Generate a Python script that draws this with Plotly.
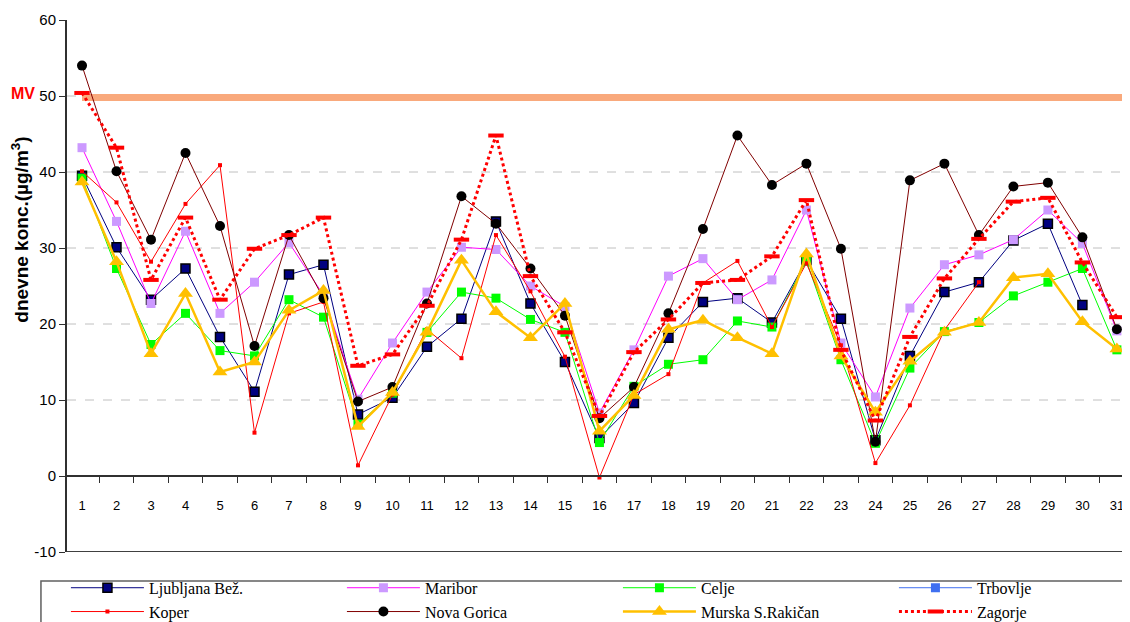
import plotly.graph_objects as go

days = [str(d) for d in range(1, 32)]

ljubljana = [39.5, 30.1, 23.2, 27.3, 18.3, 11.1, 26.5, 27.8, 8.1, 10.3, 17.0, 20.7, 33.5, 22.7, 15.0, 5.0,
             9.6, 18.2, 22.9, 23.4, 20.2, 28.4, 20.7, 4.7, 15.8, 24.2, 25.5, 31.0, 33.2, 22.5, None]
maribor = [43.2, 33.5, 22.7, 32.2, 21.4, 25.5, 30.7, 23.8, 10.1, 17.5, 24.2, 30.1, 29.8, 25.0, 22.3, 8.3,
           16.6, 26.3, 28.6, 23.2, 25.8, 35.0, 17.5, 10.4, 22.1, 27.8, 29.1, 31.1, 35.0, 30.6, 19.1]
celje = [39.2, 27.3, 17.3, 21.4, 16.5, 15.8, 23.2, 20.9, 6.8, 10.9, 18.9, 24.2, 23.4, 20.6, 18.9, 4.4,
         11.8, 14.7, 15.3, 20.4, 19.6, 28.3, 15.3, 4.3, 14.2, 19.0, 20.2, 23.7, 25.5, 27.3, 16.6]
trbovlje = [None] * 31
koper = [40.1, 36.0, 28.2, 35.8, 40.9, 5.7, 21.4, 22.9, 1.4, 10.7, 19.3, 15.5, 31.7, 24.3, 15.7, -0.2,
         10.7, 13.4, 25.4, 28.3, 19.6, 28.0, 17.2, 1.7, 9.3, 19.2, 25.5, None, None, None, None]
nova_gorica = [54.0, 40.1, 31.1, 42.5, 32.9, 17.1, 31.7, 23.4, 9.8, 11.7, 22.7, 36.8, 33.2, 27.3, 21.1, 7.6,
               11.7, 21.4, 32.5, 44.8, 38.3, 41.1, 29.9, 4.5, 38.9, 41.1, 31.7, 38.1, 38.6, 31.4, 19.3]
murska = [38.7, 28.2, 16.1, 24.0, 13.7, 15.0, 21.8, 24.4, 6.5, 11.0, 18.9, 28.4, 21.6, 18.2, 22.7, 5.9,
          10.6, 19.3, 20.5, 18.2, 16.1, 29.2, 15.8, 8.4, 15.1, 18.9, 20.2, 26.1, 26.6, 20.3, 16.7]
zagorje = [50.4, 43.2, 25.8, 34.0, 23.2, 29.9, 31.7, 34.0, 14.5, 16.0, 22.4, 31.1, 44.8, 26.3, 18.9, 7.9,
           16.3, 20.6, 25.4, 25.8, 28.9, 36.3, 16.6, 7.3, 18.3, 26.0, 31.2, 36.1, 36.6, 28.1, 20.9]

MV_LIMIT = 50
grid_levels = [10, 20, 30, 40, 50]
y_ticks = [-10, 0, 10, 20, 30, 40, 50, 60]
y_ticktext = ["-10", "0", "10", "20", "30", "40", "50", "60"]

fig = go.Figure()

def add(name, y, color, width=1, symbol="square", msize=9, mcolor=None, mline=None, dash="solid"):
    fig.add_trace(go.Scatter(
        x=days, y=y, name=name, mode="lines+markers",
        line=dict(color=color, width=width, dash=dash),
        marker=dict(symbol=symbol, size=msize, color=mcolor or color,
                    line=mline or dict(width=0)),
        connectgaps=False,
    ))

add("Ljubljana Bež.", ljubljana, "#000080", mcolor="#000080", mline=dict(color="black", width=1.5), msize=9)
add("Maribor", maribor, "#FF00FF", mcolor="#CC99FF", msize=9)
add("Celje", celje, "#00FF00", msize=9)
add("Trbovlje", trbovlje, "#3F6FF0", msize=9)
add("Koper", koper, "#FF0000", symbol="square", msize=4)
add("Nova Gorica", nova_gorica, "#800000", symbol="circle", mcolor="black", msize=10)
add("Murska S.Rakičan", murska, "#FFC000", width=2.5, symbol="triangle-up", msize=13)
add("Zagorje", zagorje, "#FF0000", width=3, symbol="line-ew", msize=11,
    mline=dict(color="#FF0000", width=4), dash="dot")

# gridlines
for g in grid_levels:
    fig.add_shape(type="line", xref="paper", yref="y", x0=0, x1=1, y0=g, y1=g,
                  line=dict(color="#C0C0C0", width=1, dash="dash"), layer="below")
# MV limit line
fig.add_shape(type="line", xref="x", yref="y", x0=0, x1=30.4, y0=MV_LIMIT - 0.2, y1=MV_LIMIT - 0.2,
              line=dict(color="#F9A97C", width=7), layer="below")
# bottom border
fig.add_shape(type="line", xref="paper", yref="y", x0=0, x1=1, y0=-10, y1=-10,
              line=dict(color="#404040", width=2))
# legend frame
fig.add_shape(type="rect", xref="paper", yref="paper", x0=-0.0245, x1=1.02, y0=-0.3, y1=-0.0545,
              line=dict(color="#606060", width=1.5), fillcolor="rgba(0,0,0,0)")

fig.add_annotation(text="<b>MV</b>", xref="paper", yref="y", x=-0.041, y=MV_LIMIT + 0.3, showarrow=False,
                   font=dict(family="Liberation Sans", size=16, color="#FF0000"), xanchor="center")
fig.add_annotation(text="<b>dnevne konc.(µg/m<sup>3</sup>)</b>", xref="paper", yref="paper",
                   x=-0.0437, y=0.605, textangle=-90, showarrow=False, xanchor="center", yanchor="middle",
                   font=dict(family="Liberation Sans", size=19, color="black"))

fig.update_layout(
    width=1122, height=614,
    margin=dict(l=59, r=0, t=12, b=70, autoexpand=False),
    plot_bgcolor="white", paper_bgcolor="white",
    font=dict(family="Liberation Sans", color="black"),
    showlegend=True,
    legend=dict(
        orientation="h", x=-0.001, y=-0.0354, xanchor="left", yanchor="top",
        entrywidth=188, entrywidthmode="pixels", itemwidth=73,
        borderwidth=0, bgcolor="rgba(0,0,0,0)",
        font=dict(family="Liberation Serif", size=16, color="black"),
        tracegroupgap=0, traceorder="normal",
    ),
    xaxis=dict(
        type="category", categoryorder="array", categoryarray=days,
        range=[-0.435, 30.38],
        anchor="free", position=1 / 7,
        showline=True, linecolor="#303030", linewidth=2,
        ticks="outside", ticklen=6, tickcolor="#303030", tickson="boundaries",
        showgrid=False, zeroline=False, automargin=False,
        tickfont=dict(family="Liberation Sans", size=13, color="black"),
        ticklabelstandoff=17,
    ),
    yaxis=dict(
        range=[-10, 60], tickvals=y_ticks, ticktext=y_ticktext,
        showgrid=False, zeroline=False,
        showline=True, linecolor="#303030", linewidth=2, automargin=False,
        ticks="outside", ticklen=6, tickcolor="#303030",
        tickfont=dict(family="Liberation Sans", size=15, color="black"),
    ),
)

fig.write_html("out.html")
